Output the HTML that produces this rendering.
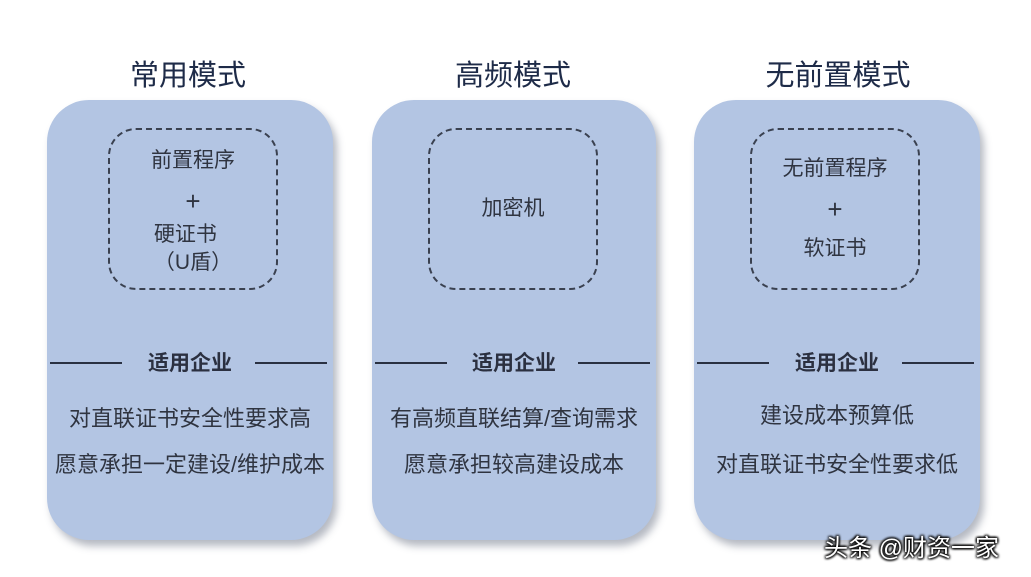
<!DOCTYPE html><html><head><meta charset="utf-8"><style>
body{margin:0;width:1031px;height:577px;background:#fff;position:relative;overflow:hidden;font-family:"Liberation Sans","Noto Sans CJK SC",sans-serif;}
.t{position:absolute;top:52px;width:300px;text-align:center;font-size:29px;color:#1e2b48;}
.card{position:absolute;top:100px;height:440px;background:#b3c5e3;border-radius:42px;box-shadow:4px 6px 8px rgba(90,100,120,.45);}
.dash{position:absolute;top:28px;height:162px;width:170px;border:2px dashed #3a4150;border-radius:28px;box-sizing:border-box;display:flex;flex-direction:column;justify-content:center;align-items:center;font-size:21px;color:#2f3440;line-height:40px;}
.p{font-size:26px;}
.div{position:absolute;top:262px;left:0;right:0;height:2px;}
.div .l{position:absolute;top:0;height:2px;background:#2a3142;width:72px;}
.div .s{position:absolute;top:-15px;left:0;right:0;text-align:center;font-size:21px;font-weight:bold;color:#2b3040;}
.tx{position:absolute;left:0;right:0;text-align:center;font-size:22px;color:#2f3440;white-space:nowrap;}
</style></head><body>
<div class="t" style="left:38px">常用模式</div>
<div class="t" style="left:363px">高频模式</div>
<div class="t" style="left:688px">无前置模式</div>

<div class="card" style="left:47px;width:286px">
<div class="dash" style="left:61px"><div>前置程序</div><div class="p">+</div><div style="line-height:28px">硬证书<br>（U盾）</div></div>
<div class="div"><div class="l" style="left:3px"></div><div class="l" style="left:208px"></div><div class="s">适用企业</div></div>
<div class="tx" style="top:301px">对直联证书安全性要求高</div>
<div class="tx" style="top:347px">愿意承担一定建设/维护成本</div>
</div>

<div class="card" style="left:372px;width:284px">
<div class="dash" style="left:56px"><div>加密机</div></div>
<div class="div"><div class="l" style="left:3px"></div><div class="l" style="left:206px"></div><div class="s">适用企业</div></div>
<div class="tx" style="top:301px">有高频直联结算/查询需求</div>
<div class="tx" style="top:347px">愿意承担较高建设成本</div>
</div>

<div class="card" style="left:694px;width:286px">
<div class="dash" style="left:56px"><div>无前置程序</div><div class="p">+</div><div>软证书</div></div>
<div class="div"><div class="l" style="left:3px"></div><div class="l" style="left:208px"></div><div class="s">适用企业</div></div>
<div class="tx" style="top:298px">建设成本预算低</div>
<div class="tx" style="top:347px">对直联证书安全性要求低</div>
</div>

<div style="position:absolute;left:824px;top:528px;font-size:24px;color:#fff;text-shadow:1px 1px 2px #000,-1px -1px 2px #000,1px -1px 2px #000,-1px 1px 2px #000;">头条 @财资一家</div>
</body></html>
